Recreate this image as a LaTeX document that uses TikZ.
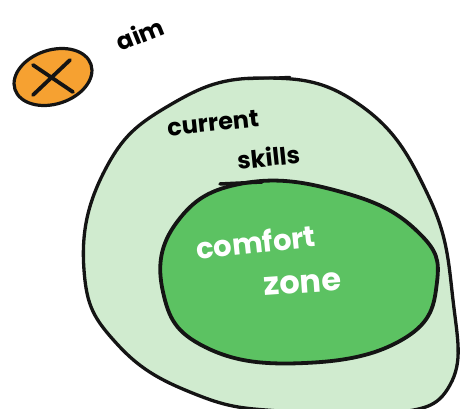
\documentclass[tikz,border=0pt]{standalone}
\usepackage{fontspec}
\setmainfont{Poppins}
\usetikzlibrary{shapes.geometric}
\definecolor{outerg}{HTML}{D0EBCF}
\definecolor{innerg}{HTML}{5CC262}
\definecolor{aimor}{HTML}{F6A131}
\definecolor{ink}{HTML}{141414}
\tikzset{
  blob/.style={draw=ink, line width=3.3pt, line join=round},
  hand/.style={font=\bfseries\fontsize{24}{24}\selectfont, inner sep=0pt},
  handbig/.style={font=\bfseries\fontsize{29}{29}\selectfont, inner sep=0pt, text=white},
}
\begin{document}
\begin{tikzpicture}[x=1pt,y=-1pt]
\useasboundingbox (0,0) rectangle (460,409);
\fill[white] (0,0) rectangle (460,409);
% outer blob
\draw[blob, fill=outerg] plot[smooth cycle, tension=0.75] coordinates {
 (262,78) (360,105) (428,195) (453,300) (450,385) (390,414) (290,412) (200,396)
 (118,345) (84,270) (105,170) (170,105)};
\draw[ink, line width=2.5pt, line cap=round] (248,79) -- (290,77);
% inner blob
\draw[blob, line width=3.8pt, fill=innerg] plot[smooth cycle, tension=0.75] coordinates {
 (245,183) (345,193) (418,232) (437,282) (405,338) (305,363) (205,347)
 (163,292) (177,222)};
\draw[ink, line width=3.5pt, line cap=round] (220,184) -- (262,182);
% aim marker
\node[ellipse, draw=ink, line width=3.2pt, fill=aimor, minimum width=80pt, minimum height=54pt, inner sep=0pt, rotate=18] (aimmark) at (53,77) {};
\draw[ink, line width=3.8pt, line cap=round] (33,95) -- (70,60);
\draw[ink, line width=3.8pt, line cap=round] (33,65) -- (73,92);
\node[hand, rotate=22] (aim) at (140,34) {aim};
\node[hand, rotate=6, anchor=west] (cur) at (167,128) {current};
\node[hand, rotate=6, anchor=west] (sk) at (237,160) {skills};
\node[handbig, rotate=6, anchor=west] (comf) at (196,248) {comfort};
\node[handbig, font=\bfseries\fontsize{32}{32}\selectfont, rotate=4, anchor=west] (zone) at (264,287) {zone};
\end{tikzpicture}
\end{document}
